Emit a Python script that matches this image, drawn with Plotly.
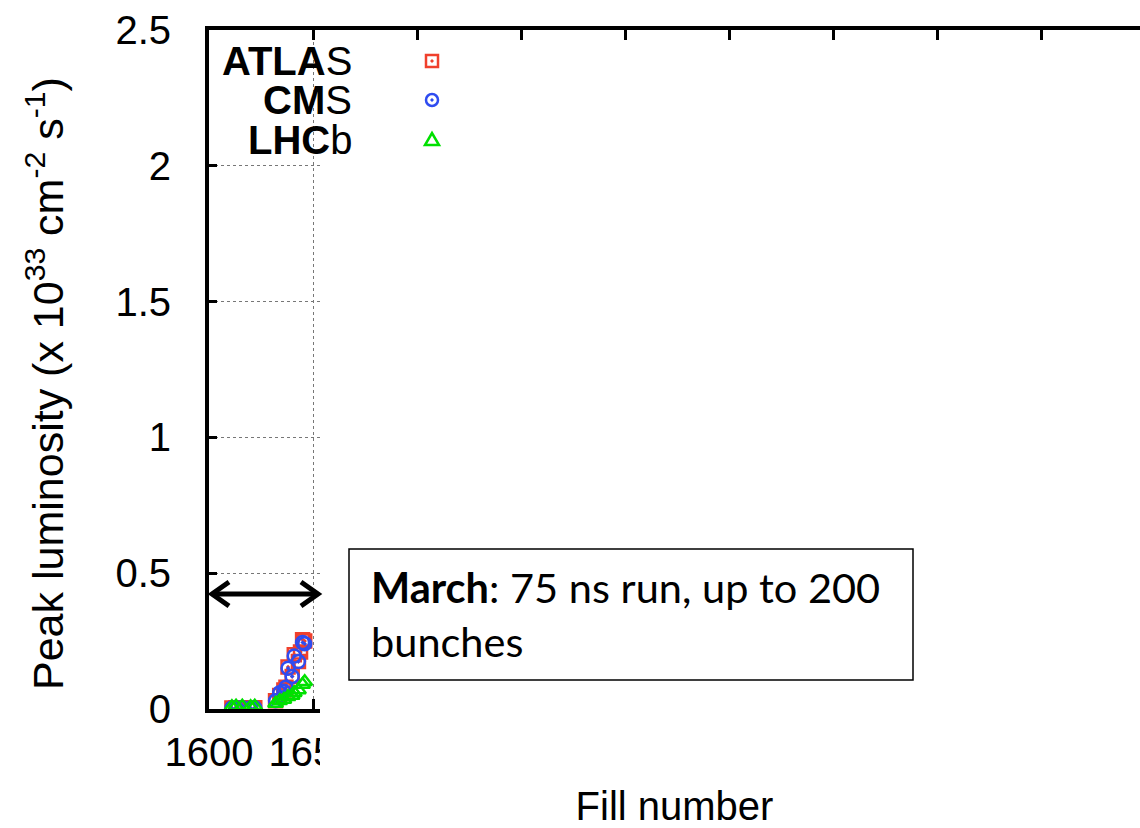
import plotly.graph_objects as go

# ---------------- data ----------------
atlas_fill = [1611, 1613, 1616, 1620, 1622, 1632, 1634, 1636, 1637, 1638, 1640, 1641, 1643, 1644, 1645, 1646]
atlas_lumi = [0.004, 0.005, 0.005, 0.004, 0.005, 0.03, 0.05, 0.07, 0.08, 0.155, 0.12, 0.2, 0.175, 0.21, 0.255, 0.25]

cms_fill = [1611, 1613, 1616, 1620, 1622, 1632, 1634, 1636, 1637, 1638, 1640, 1641, 1643, 1645, 1646]
cms_lumi = [0.004, 0.005, 0.005, 0.004, 0.005, 0.03, 0.06, 0.065, 0.08, 0.15, 0.12, 0.195, 0.175, 0.245, 0.24]

lhcb_fill = [1611, 1613, 1616, 1620, 1622, 1632, 1634, 1636, 1638, 1640, 1641, 1643, 1645, 1646]
lhcb_lumi = [0.008, 0.01, 0.01, 0.008, 0.01, 0.02, 0.03, 0.035, 0.045, 0.05, 0.06, 0.07, 0.09, 0.1]

x_ticks = [1600, 1650, 1700, 1750, 1800, 1850, 1900, 1950, 2000]
x_ticklabels = ["1600", "1650", "1700", "1750", "1800", "1850", "1900", "1950", "2000"]
y_ticks = [0, 0.5, 1, 1.5, 2, 2.5]
y_ticklabels = ["0", "0.5", "1", "1.5", "2", "2.5"]

series_names = ["ATLAS", "CMS", "LHCb"]
legend_labels = ["<b>ATLA</b>S", "<b>CM</b>S", "<b>LHC</b>b"]
note_text = "<b>March</b>: 75 ns run, up to 200<br>bunches"
x_title = "Fill number"
y_title = "Peak luminosity (x 10<sup>33</sup> cm<sup>-2</sup> s<sup>-1</sup>)"

# ---------------- layout constants ----------------
W, H = 1140, 828
L, R, T, B = 209, 0, 30, 119
PW, PH = W - L - R, H - T - B

RED, BLUE, GREEN = "#f0402c", "#2f4cf0", "#00e000"
AXFONT = "Liberation Sans, Arial, sans-serif"
FS = 40


def px(x):
    return (x - L) / PW


def py(y):
    return (H - B - y) / PH


fig = go.Figure()
fig.add_trace(go.Scatter(x=atlas_fill, y=atlas_lumi, mode="markers", name=series_names[0],
                         marker=dict(symbol="square-open-dot", size=13, color=RED, line=dict(width=2.5, color=RED))))
fig.add_trace(go.Scatter(x=cms_fill, y=cms_lumi, mode="markers", name=series_names[1],
                         marker=dict(symbol="circle-open-dot", size=13, color=BLUE, line=dict(width=2.5, color=BLUE))))
fig.add_trace(go.Scatter(x=lhcb_fill, y=lhcb_lumi, mode="markers", name=series_names[2],
                         marker=dict(symbol="triangle-up-open", size=13, color=GREEN, line=dict(width=2.5, color=GREEN))))

shapes = []
# white mask covering the right part of the plot
shapes.append(dict(type="rect", xref="paper", yref="paper", x0=px(320), x1=px(1200), y0=py(42), y1=py(900),
                   fillcolor="white", line=dict(width=0), layer="above"))

# legend key glyphs (drawn above the mask)
kx = 432
shapes.append(dict(type="rect", xref="paper", yref="paper", x0=px(kx - 6), x1=px(kx + 6), y0=py(67), y1=py(55),
                   line=dict(color=RED, width=2.5), fillcolor="rgba(0,0,0,0)", layer="above"))
shapes.append(dict(type="rect", xref="paper", yref="paper", x0=px(kx - 1), x1=px(kx + 1), y0=py(62), y1=py(60),
                   line=dict(color=RED, width=1), fillcolor=RED, layer="above"))
shapes.append(dict(type="circle", xref="paper", yref="paper", x0=px(kx - 6), x1=px(kx + 6), y0=py(106), y1=py(94),
                   line=dict(color=BLUE, width=2.5), fillcolor="rgba(0,0,0,0)", layer="above"))
shapes.append(dict(type="circle", xref="paper", yref="paper", x0=px(kx - 1.2), x1=px(kx + 1.2), y0=py(101.2), y1=py(98.8),
                   line=dict(color=BLUE, width=1), fillcolor=BLUE, layer="above"))
tri = "M {} {} L {} {} L {} {} Z".format(px(kx - 7), py(145), px(kx + 7), py(145), px(kx), py(133))
shapes.append(dict(type="path", xref="paper", yref="paper", path=tri,
                   line=dict(color=GREEN, width=2.5), fillcolor="rgba(0,0,0,0)", layer="above"))

# note box
shapes.append(dict(type="rect", xref="paper", yref="paper", x0=px(349), x1=px(913), y0=py(680), y1=py(549),
                   line=dict(color="black", width=1.5), fillcolor="white", layer="above"))

# double-headed arrow
ay = 594
shapes.append(dict(type="line", xref="paper", yref="paper", x0=px(212), x1=px(318), y0=py(ay), y1=py(ay),
                   line=dict(color="black", width=5), layer="above"))
left_head = "M {} {} L {} {} L {} {}".format(px(229), py(ay - 12), px(212), py(ay), px(229), py(ay + 12))
right_head = "M {} {} L {} {} L {} {}".format(px(301), py(ay - 12), px(318), py(ay), px(301), py(ay + 12))
for pth in (left_head, right_head):
    shapes.append(dict(type="path", xref="paper", yref="paper", path=pth,
                       line=dict(color="black", width=5), layer="above"))

annotations = []
for lab, yy in zip(legend_labels, [61, 100, 140]):
    annotations.append(dict(text=lab, xref="paper", yref="paper", x=px(354), y=py(yy), xanchor="right",
                            yanchor="middle", showarrow=False, font=dict(family=AXFONT, size=FS, color="black")))
annotations.append(dict(text=note_text, xref="paper", yref="paper", x=px(369), y=py(614), xanchor="left",
                        yanchor="middle", align="left", showarrow=False,
                        font=dict(family="Lato, sans-serif", size=41.5, color="black")))
# y-axis title (placed as an annotation for exact position)
annotations.append(dict(text=y_title, xref="paper", yref="paper", x=px(45), y=py(384), xanchor="center",
                        yanchor="middle", textangle=-90, showarrow=False,
                        font=dict(family=AXFONT, size=43, color="black")))

fig.update_layout(
    width=W, height=H,
    margin=dict(l=L, r=R, t=T, b=B, autoexpand=False),
    paper_bgcolor="white", plot_bgcolor="white",
    showlegend=False,
    font=dict(family=AXFONT, size=FS, color="black"),
    shapes=shapes,
    annotations=annotations,
    xaxis=dict(range=[1600, 1600 + PW / 2.08], tickvals=x_ticks, ticktext=x_ticklabels,
               showline=True, linecolor="black", linewidth=4, mirror="ticks",
               ticks="inside", ticklen=10, tickwidth=3, tickcolor="black",
               showgrid=True, gridcolor="#777", griddash="dot", gridwidth=1,
               zeroline=False, ticklabelstandoff=5,
               title=dict(text=x_title, standoff=46, font=dict(size=FS))),
    yaxis=dict(range=[0, 2.5], tickvals=y_ticks, ticktext=y_ticklabels,
               showline=True, linecolor="black", linewidth=4, mirror=False,
               ticks="inside", ticklen=8, tickwidth=3, tickcolor="black",
               showgrid=True, gridcolor="#777", griddash="dot", gridwidth=1,
               zeroline=False, ticklabelstandoff=26),
)

fig.write_html("out.html", config={"displayModeBar": False},
               post_script="document.body.style.margin='0';document.body.style.overflow='hidden';")
